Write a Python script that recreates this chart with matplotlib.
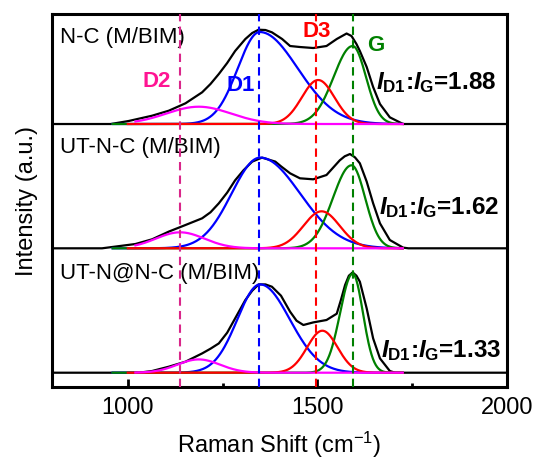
import numpy as np
import matplotlib
matplotlib.use('Agg')
import matplotlib.pyplot as plt

plt.rcParams['font.family'] = 'Liberation Sans'
plt.rcParams['mathtext.fontset'] = 'custom'
plt.rcParams['mathtext.rm'] = 'Liberation Sans:bold'
plt.rcParams['mathtext.it'] = 'Liberation Sans:italic:bold'
plt.rcParams['mathtext.sf'] = 'Liberation Sans'

# samples, top to bottom
samples = ['N-C (M/BIM)', 'UT-N-C (M/BIM)', 'UT-N@N-C (M/BIM)']
ratios = ['1.88', '1.62', '1.33']
offsets = [248.7, 124.4, 0.0]

# measured spectra (Raman shift in cm-1, intensity in a.u.)
shift_nc = [800, 955, 1002, 1064, 1108, 1152, 1196, 1218, 1240, 1262, 1283, 1310, 1328, 1345,
            1363, 1380, 1407, 1428, 1454, 1489, 1524, 1551, 1577, 1590, 1603, 1612, 1630,
            1647, 1665, 1691, 1726, 2000]
int_nc = [0, 0, 3, 8.3, 13.3, 20.7, 31.7, 40, 50, 61, 73, 85, 91, 94.3,
          94, 91.7, 85, 78, 77, 76, 78, 85, 90.5, 88, 80, 73, 57,
          37, 20, 6.7, 0, 0]

shift_utnc = [800, 932, 1020, 1064, 1108, 1152, 1196, 1218, 1240, 1262, 1283, 1305, 1328, 1354,
              1389, 1404, 1428, 1454, 1489, 1524, 1559, 1572, 1586, 1599, 1612, 1630, 1647,
              1665, 1691, 1726, 1740, 2000]
int_utnc = [0, 0, 4.3, 9, 16.7, 23.3, 30, 36, 45, 55.7, 68, 78, 86.7, 90.7,
            86.7, 82, 75, 70, 69, 73.3, 88, 92, 94.3, 91, 85, 66.7, 45,
            25, 8.3, 0.7, 0, 0]

shift_utnnc = [800, 1029, 1064, 1108, 1152, 1196, 1218, 1240, 1262, 1283, 1310, 1328, 1345, 1363,
               1380, 1404, 1428, 1445, 1463, 1489, 1524, 1551, 1562, 1573, 1583, 1593, 1603,
               1612, 1630, 1647, 1665, 1691, 1705, 2000]
int_utnnc = [0, 0, 1.7, 6, 11, 19.3, 24, 29.3, 40, 54.3, 72.7, 82, 88.3, 88.3,
             86, 77, 61, 52, 47.7, 50.3, 52.7, 59, 72.7, 87.7, 97, 100.3, 97,
             91, 64.3, 34.3, 14.3, 1.7, 0, 0]

spectra = [(shift_nc, int_nc), (shift_utnc, int_utnc), (shift_utnnc, int_utnnc)]

# fitted bands: D2, D1, D3, G
band_names = ['D2', 'D1', 'D3', 'G']
band_center = [[1187, 1348, 1502, 1593],
               [1138, 1349, 1511, 1590],
               [1187, 1349, 1513, 1593]]
band_height = [[17.3, 92, 44, 78],
               [16, 90.7, 37, 83],
               [13.3, 88.3, 42, 99]]
band_sigma_left = [[85, 58, 43, 50],
                   [64, 75, 48, 49],
                   [56, 60, 40, 33]]
band_sigma_right = [[85, 100, 43, 35],
                    [64, 105, 48, 36],
                    [56, 78, 40, 27]]
band_colors = ['#ff00ff', '#0000ff', '#ff0000', '#008000']
band_start = [1020, 960, 1000, 960]

# band positions marked by dashed lines
marker_pos = [1137, 1347, 1496, 1593]
marker_colors = ['#d9268a', '#0000ff', '#ff0000', '#008000']

# text anchors per panel
name_y = [335.7, 225.7, 99.7]
ratio_x = [1655, 1663, 1667]
ratio_y = [283.7, 158.4, 15.4]


def band(x, c, h, sl, sr):
    s = np.where(x < c, sl, sr)
    return h * np.exp(-(x - c) ** 2 / (2 * s ** 2))


fig = plt.figure(figsize=(5.37, 4.61), dpi=100)
ax = fig.add_axes([0.0968, 0.1605, 0.8473, 0.8091])

for i in range(3):
    off = offsets[i]
    xs, ys = spectra[i]
    ax.plot(xs, np.array(ys) + off, color='black', lw=1.6, zorder=3,
            solid_joinstyle='round')
    for k in [1, 3, 2, 0]:
        x = np.linspace(band_start[k], 1725, 400)
        y = band(x, band_center[i][k], band_height[i][k],
                 band_sigma_left[i][k], band_sigma_right[i][k])
        ax.plot(x, y + off, color=band_colors[k], lw=1.6, zorder=4)
    ax.text(820, name_y[i], samples[i], fontsize=16, ha='left', va='center')
    ax.text(ratio_x[i], ratio_y[i], r'$I_{\mathrm{D1}}$:$I_{\mathrm{G}}$=' + ratios[i],
            fontsize=17.5, fontweight='bold', ha='left', va='baseline', zorder=6)

for xm, cm in zip(marker_pos, marker_colors):
    ax.axvline(xm, color=cm, lw=1.5, linestyle=(0, (4, 2.5)), zorder=5)

# band labels above the top spectrum
ax.text(1077, 291, 'D2', color='#ff1493', fontsize=16, fontweight='bold', ha='center', va='center')
ax.text(1298, 287, 'D1', color='#0000ff', fontsize=16, fontweight='bold', ha='center', va='center')
ax.text(1498, 341, 'D3', color='#ff0000', fontsize=16, fontweight='bold', ha='center', va='center')
ax.text(1653, 327, 'G', color='#008000', fontsize=16, fontweight='bold', ha='center', va='center')

ax.set_xlim(800, 2000)
ax.set_ylim(-14.3, 358.7)
ax.set_xticks([1000, 1500, 2000])
ax.set_xticks([1250, 1750], minor=True)
ax.set_yticks([])
ax.tick_params(axis='x', which='major', direction='in', length=6, width=2,
               labelsize=17, pad=7)
ax.tick_params(axis='x', which='minor', direction='in', length=3, width=2)
for sp in ax.spines.values():
    sp.set_linewidth(2.2)

ax.set_xlabel(r'Raman Shift (cm$^{\mathsf{-1}}$)', fontsize=17, labelpad=8)
ax.set_ylabel('Intensity (a.u.)', fontsize=17, labelpad=10)

fig.savefig('out.png', dpi=100)
